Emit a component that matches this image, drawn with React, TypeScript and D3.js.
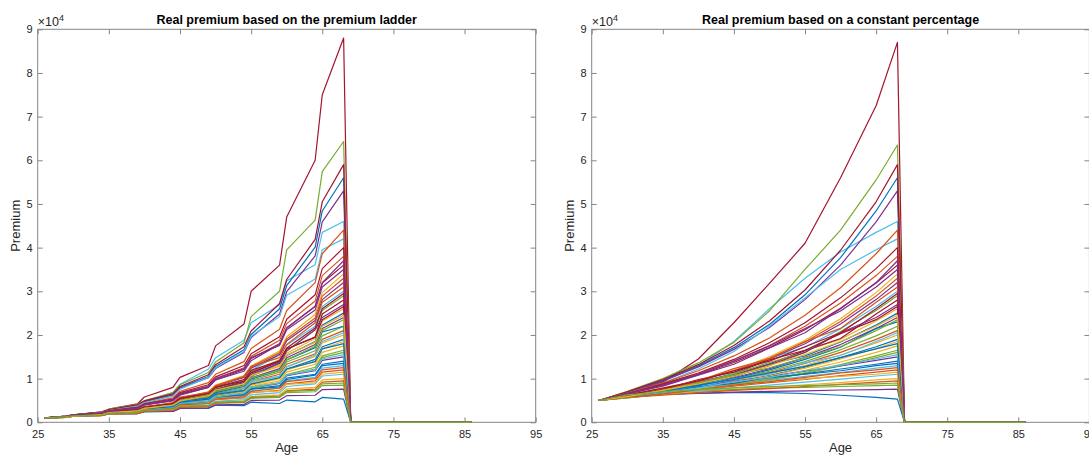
import React, { useEffect, useRef } from 'react';
import * as d3 from 'd3';

// ages sampled for each panel (ladder panel needs both ends of every bracket)
const ladderAges = [26, 29, 30, 34, 35, 39, 40, 44, 45, 49, 50, 54, 55, 59, 60, 64, 65, 68, 69, 86];
const constantAges = [26, 30, 35, 40, 45, 50, 55, 60, 65, 68, 69, 86];

// real premium, in units of 10^4 (as on the y axis)
const ladderPremium = [
  [0.1, 0.12, 0.15, 0.16, 0.19, 0.2, 0.24, 0.25, 0.32, 0.32, 0.39, 0.38, 0.46, 0.43, 0.51, 0.47, 0.57, 0.53, 0, 0],
  [0.1, 0.12, 0.14, 0.17, 0.2, 0.24, 0.3, 0.35, 0.45, 0.53, 0.65, 0.77, 0.93, 1.1, 1.33, 1.57, 1.9, 2.1, 0, 0],
  [0.1, 0.12, 0.15, 0.18, 0.23, 0.28, 0.35, 0.44, 0.56, 0.7, 0.85, 1.07, 1.29, 1.63, 1.96, 2.47, 2.97, 3.4, 0, 0],
  [0.1, 0.12, 0.15, 0.16, 0.19, 0.2, 0.25, 0.25, 0.32, 0.33, 0.4, 0.41, 0.5, 0.51, 0.61, 0.62, 0.75, 0.76, 0, 0],
  [0.1, 0.11, 0.14, 0.16, 0.19, 0.22, 0.27, 0.31, 0.4, 0.46, 0.55, 0.64, 0.77, 0.89, 1.07, 1.22, 1.48, 1.6, 0, 0],
  [0.1, 0.14, 0.17, 0.23, 0.28, 0.39, 0.48, 0.68, 0.87, 1.22, 1.48, 1.88, 2.28, 2.69, 3.24, 3.61, 4.35, 4.6, 0, 0],
  [0.1, 0.13, 0.17, 0.22, 0.3, 0.42, 0.58, 0.8, 1.03, 1.3, 1.75, 2.25, 3.0, 3.6, 4.7, 6.0, 7.5, 8.8, 0, 0],
  [0.1, 0.14, 0.17, 0.23, 0.29, 0.39, 0.48, 0.63, 0.8, 1.05, 1.28, 1.66, 2.01, 2.6, 3.13, 4.01, 4.84, 5.6, 0, 0],
  [0.1, 0.12, 0.14, 0.16, 0.2, 0.22, 0.28, 0.31, 0.39, 0.43, 0.52, 0.56, 0.68, 0.73, 0.88, 0.95, 1.15, 1.2, 0, 0],
  [0.1, 0.12, 0.14, 0.17, 0.21, 0.26, 0.32, 0.39, 0.5, 0.6, 0.73, 0.95, 1.08, 1.31, 1.58, 1.92, 2.32, 2.6, 0, 0],
  [0.1, 0.14, 0.17, 0.23, 0.28, 0.38, 0.47, 0.62, 0.78, 1.02, 1.23, 1.6, 1.94, 2.48, 2.99, 3.81, 4.59, 5.3, 0, 0],
  [0.1, 0.14, 0.17, 0.24, 0.3, 0.41, 0.5, 0.68, 0.86, 1.14, 1.38, 1.82, 2.42, 3.0, 3.95, 4.63, 5.74, 6.43, 0, 0],
  [0.1, 0.12, 0.15, 0.18, 0.22, 0.27, 0.34, 0.42, 0.53, 0.65, 0.79, 0.98, 1.19, 1.55, 1.77, 2.2, 2.65, 3.0, 0, 0],
  [0.1, 0.14, 0.17, 0.24, 0.29, 0.4, 0.49, 0.65, 0.82, 1.09, 1.32, 1.73, 2.09, 2.72, 3.27, 4.19, 5.05, 5.9, 0, 0],
  [0.1, 0.11, 0.14, 0.16, 0.2, 0.23, 0.29, 0.34, 0.43, 0.5, 0.61, 0.72, 0.87, 1.02, 1.22, 1.44, 1.73, 1.9, 0, 0],
  [0.1, 0.13, 0.16, 0.21, 0.26, 0.33, 0.41, 0.52, 0.66, 0.83, 1.0, 1.25, 1.51, 1.88, 2.26, 2.78, 3.36, 3.8, 0, 0],
  [0.1, 0.11, 0.14, 0.15, 0.19, 0.21, 0.26, 0.28, 0.35, 0.38, 0.46, 0.49, 0.59, 0.63, 0.76, 0.8, 0.97, 1.0, 0, 0],
  [0.1, 0.12, 0.14, 0.17, 0.21, 0.25, 0.31, 0.35, 0.48, 0.58, 0.7, 0.84, 1.02, 1.23, 1.48, 1.78, 2.15, 2.4, 0, 0],
  [0.1, 0.13, 0.15, 0.17, 0.2, 0.22, 0.27, 0.28, 0.35, 0.36, 0.44, 0.45, 0.55, 0.57, 0.68, 0.7, 0.84, 0.85, 0, 0],
  [0.1, 0.13, 0.16, 0.22, 0.27, 0.37, 0.45, 0.6, 0.76, 1.03, 1.25, 1.62, 1.97, 2.42, 2.91, 3.28, 3.95, 4.2, 0, 0],
  [0.1, 0.12, 0.14, 0.18, 0.22, 0.27, 0.33, 0.4, 0.51, 0.63, 0.76, 0.93, 1.13, 1.39, 1.68, 1.95, 2.48, 2.8, 0, 0],
  [0.1, 0.12, 0.15, 0.17, 0.21, 0.24, 0.3, 0.33, 0.43, 0.47, 0.57, 0.63, 0.76, 0.84, 1.01, 1.1, 1.33, 1.4, 0, 0],
  [0.1, 0.13, 0.16, 0.22, 0.27, 0.35, 0.43, 0.56, 0.71, 0.91, 1.1, 1.39, 1.69, 2.13, 2.56, 3.2, 3.86, 4.4, 0, 0],
  [0.1, 0.11, 0.14, 0.16, 0.2, 0.23, 0.28, 0.33, 0.41, 0.48, 0.58, 0.68, 0.82, 0.95, 1.15, 1.33, 1.6, 1.75, 0, 0],
  [0.1, 0.12, 0.15, 0.18, 0.22, 0.28, 0.34, 0.43, 0.54, 0.62, 0.82, 1.03, 1.24, 1.55, 1.87, 2.33, 2.81, 3.2, 0, 0],
  [0.1, 0.12, 0.14, 0.17, 0.21, 0.25, 0.3, 0.36, 0.46, 0.55, 0.66, 0.79, 0.96, 1.15, 1.38, 1.64, 1.98, 2.2, 0, 0],
  [0.1, 0.12, 0.14, 0.16, 0.2, 0.22, 0.27, 0.29, 0.37, 0.4, 0.48, 0.52, 0.63, 0.68, 0.82, 0.88, 1.06, 1.1, 0, 0],
  [0.1, 0.13, 0.16, 0.21, 0.25, 0.33, 0.4, 0.5, 0.64, 0.8, 0.97, 1.21, 1.46, 1.8, 2.16, 2.65, 3.19, 3.6, 0, 0],
  [0.1, 0.12, 0.14, 0.17, 0.21, 0.26, 0.32, 0.38, 0.49, 0.59, 0.72, 0.86, 1.05, 1.36, 1.53, 1.85, 2.23, 2.5, 0, 0],
  [0.1, 0.11, 0.14, 0.15, 0.19, 0.2, 0.25, 0.27, 0.34, 0.36, 0.44, 0.47, 0.57, 0.6, 0.72, 0.76, 0.92, 0.95, 0, 0],
  [0.1, 0.11, 0.14, 0.16, 0.2, 0.24, 0.29, 0.35, 0.44, 0.52, 0.63, 0.74, 0.9, 1.06, 1.27, 1.51, 1.82, 2.0, 0, 0],
  [0.1, 0.12, 0.15, 0.18, 0.22, 0.25, 0.31, 0.35, 0.44, 0.49, 0.6, 0.66, 0.8, 0.89, 1.07, 1.18, 1.42, 1.5, 0, 0],
  [0.1, 0.12, 0.14, 0.18, 0.22, 0.27, 0.33, 0.41, 0.52, 0.64, 0.78, 0.96, 1.16, 1.43, 1.64, 2.12, 2.56, 2.9, 0, 0],
  [0.1, 0.12, 0.15, 0.17, 0.21, 0.23, 0.29, 0.32, 0.41, 0.45, 0.54, 0.6, 0.72, 0.79, 0.95, 1.03, 1.24, 1.3, 0, 0],
  [0.1, 0.13, 0.16, 0.21, 0.26, 0.34, 0.42, 0.53, 0.68, 0.86, 1.04, 1.3, 1.57, 1.96, 2.36, 2.92, 3.52, 4.0, 0, 0],
  [0.1, 0.12, 0.14, 0.17, 0.21, 0.25, 0.31, 0.37, 0.47, 0.56, 0.68, 0.82, 0.99, 1.19, 1.43, 1.71, 2.07, 2.2, 0, 0],
  [0.1, 0.12, 0.15, 0.18, 0.23, 0.28, 0.35, 0.43, 0.55, 0.69, 0.84, 1.05, 1.27, 1.59, 1.91, 2.39, 2.89, 3.3, 0, 0],
  [0.1, 0.11, 0.14, 0.16, 0.2, 0.23, 0.29, 0.33, 0.43, 0.5, 0.6, 0.7, 0.85, 1.0, 1.2, 1.4, 1.69, 1.85, 0, 0],
  [0.1, 0.12, 0.14, 0.17, 0.21, 0.26, 0.32, 0.4, 0.5, 0.62, 0.75, 0.91, 1.1, 1.35, 1.63, 2.12, 2.4, 2.7, 0, 0],
  [0.1, 0.11, 0.14, 0.16, 0.19, 0.22, 0.28, 0.32, 0.4, 0.47, 0.56, 0.65, 0.79, 0.91, 1.09, 1.26, 1.52, 1.65, 0, 0],
  [0.1, 0.12, 0.14, 0.17, 0.21, 0.24, 0.3, 0.37, 0.47, 0.52, 0.63, 0.78, 0.94, 1.05, 1.27, 1.54, 1.85, 2.05, 0, 0],
  [0.1, 0.12, 0.15, 0.18, 0.23, 0.29, 0.36, 0.43, 0.54, 0.67, 0.81, 0.94, 1.14, 1.4, 1.68, 1.95, 2.35, 2.65, 0, 0],
  [0.1, 0.12, 0.14, 0.17, 0.2, 0.24, 0.3, 0.33, 0.42, 0.48, 0.58, 0.63, 0.76, 0.81, 0.98, 1.08, 1.3, 1.35, 0, 0],
  [0.1, 0.12, 0.15, 0.19, 0.24, 0.29, 0.35, 0.45, 0.58, 0.68, 0.83, 1.05, 1.28, 1.48, 1.78, 2.28, 2.75, 3.1, 0, 0],
  [0.1, 0.12, 0.15, 0.17, 0.21, 0.23, 0.28, 0.31, 0.4, 0.43, 0.53, 0.57, 0.69, 0.72, 0.87, 0.91, 1.1, 1.15, 0, 0],
  [0.1, 0.13, 0.16, 0.2, 0.25, 0.32, 0.4, 0.49, 0.62, 0.8, 0.97, 1.17, 1.41, 1.79, 2.16, 2.66, 3.2, 3.7, 0, 0],
  [0.1, 0.12, 0.15, 0.18, 0.22, 0.27, 0.34, 0.4, 0.5, 0.59, 0.71, 0.84, 1.02, 1.19, 1.43, 1.74, 2.1, 2.35, 0, 0],
  [0.1, 0.12, 0.14, 0.16, 0.2, 0.24, 0.29, 0.34, 0.43, 0.48, 0.58, 0.67, 0.81, 0.9, 1.08, 1.2, 1.45, 1.55, 0, 0],
  [0.1, 0.13, 0.15, 0.19, 0.23, 0.29, 0.35, 0.43, 0.55, 0.66, 0.8, 0.98, 1.19, 1.41, 1.7, 2.16, 2.6, 2.95, 0, 0],
  [0.1, 0.12, 0.15, 0.17, 0.21, 0.26, 0.31, 0.36, 0.46, 0.53, 0.64, 0.73, 0.88, 1.02, 1.22, 1.39, 1.68, 1.8, 0, 0],
  [0.1, 0.11, 0.14, 0.16, 0.2, 0.23, 0.28, 0.31, 0.4, 0.43, 0.53, 0.58, 0.71, 0.78, 0.93, 1.0, 1.2, 1.25, 0, 0],
  [0.1, 0.12, 0.14, 0.18, 0.22, 0.26, 0.32, 0.39, 0.49, 0.61, 0.74, 0.88, 1.07, 1.28, 1.54, 1.83, 2.2, 2.45, 0, 0],
  [0.1, 0.13, 0.16, 0.21, 0.26, 0.33, 0.41, 0.52, 0.66, 0.82, 1.0, 1.23, 1.48, 1.76, 2.12, 2.57, 3.1, 3.5, 0, 0],
  [0.1, 0.13, 0.15, 0.17, 0.21, 0.23, 0.28, 0.29, 0.37, 0.38, 0.46, 0.48, 0.58, 0.59, 0.71, 0.73, 0.88, 0.9, 0, 0],
];

const constantPremium = [
  [0.5, 0.6, 0.64, 0.66, 0.68, 0.68, 0.66, 0.62, 0.57, 0.53, 0, 0],
  [0.5, 0.58, 0.68, 0.81, 0.96, 1.14, 1.35, 1.6, 1.9, 2.1, 0, 0],
  [0.5, 0.6, 0.76, 0.95, 1.19, 1.5, 1.88, 2.37, 2.97, 3.4, 0, 0],
  [0.5, 0.6, 0.64, 0.67, 0.69, 0.71, 0.72, 0.74, 0.75, 0.76, 0, 0],
  [0.5, 0.56, 0.64, 0.74, 0.85, 0.97, 1.12, 1.29, 1.48, 1.6, 0, 0],
  [0.5, 0.68, 0.93, 1.3, 1.85, 2.6, 3.3, 3.9, 4.35, 4.6, 0, 0],
  [0.5, 0.65, 0.92, 1.45, 2.28, 3.18, 4.1, 5.6, 7.25, 8.7, 0, 0],
  [0.5, 0.7, 0.96, 1.29, 1.71, 2.24, 2.92, 3.77, 4.84, 5.6, 0, 0],
  [0.5, 0.59, 0.68, 0.75, 0.83, 0.91, 0.98, 1.07, 1.15, 1.2, 0, 0],
  [0.5, 0.59, 0.71, 0.87, 1.06, 1.29, 1.64, 1.9, 2.32, 2.6, 0, 0],
  [0.5, 0.69, 0.95, 1.27, 1.67, 2.17, 2.81, 3.6, 4.59, 5.3, 0, 0],
  [0.5, 0.71, 1.0, 1.36, 1.83, 2.55, 3.5, 4.4, 5.55, 6.35, 0, 0],
  [0.5, 0.6, 0.74, 0.91, 1.13, 1.46, 1.72, 2.14, 2.65, 3.0, 0, 0],
  [0.5, 0.7, 0.98, 1.32, 1.76, 2.32, 3.03, 3.94, 5.05, 5.9, 0, 0],
  [0.5, 0.57, 0.67, 0.78, 0.92, 1.07, 1.26, 1.48, 1.73, 1.9, 0, 0],
  [0.5, 0.66, 0.87, 1.11, 1.41, 1.76, 2.2, 2.73, 3.36, 3.8, 0, 0],
  [0.5, 0.57, 0.64, 0.69, 0.75, 0.8, 0.86, 0.91, 0.97, 1.0, 0, 0],
  [0.5, 0.58, 0.7, 0.8, 1.02, 1.23, 1.48, 1.78, 2.15, 2.4, 0, 0],
  [0.5, 0.63, 0.68, 0.72, 0.75, 0.78, 0.8, 0.82, 0.84, 0.85, 0, 0],
  [0.5, 0.66, 0.9, 1.22, 1.62, 2.2, 2.85, 3.5, 3.95, 4.2, 0, 0],
  [0.5, 0.59, 0.73, 0.89, 1.09, 1.34, 1.64, 1.92, 2.48, 2.8, 0, 0],
  [0.5, 0.61, 0.71, 0.81, 0.91, 1.01, 1.11, 1.22, 1.33, 1.4, 0, 0],
  [0.5, 0.67, 0.9, 1.18, 1.52, 1.93, 2.45, 3.08, 3.86, 4.4, 0, 0],
  [0.5, 0.57, 0.66, 0.76, 0.88, 1.02, 1.19, 1.38, 1.6, 1.75, 0, 0],
  [0.5, 0.6, 0.75, 0.93, 1.1, 1.45, 1.8, 2.25, 2.81, 3.2, 0, 0],
  [0.5, 0.58, 0.69, 0.82, 0.98, 1.17, 1.39, 1.66, 1.98, 2.2, 0, 0],
  [0.5, 0.58, 0.66, 0.72, 0.79, 0.85, 0.92, 0.99, 1.06, 1.1, 0, 0],
  [0.5, 0.65, 0.85, 1.09, 1.37, 1.71, 2.12, 2.61, 3.19, 3.6, 0, 0],
  [0.5, 0.59, 0.71, 0.86, 1.04, 1.33, 1.52, 1.84, 2.23, 2.5, 0, 0],
  [0.5, 0.57, 0.62, 0.68, 0.73, 0.77, 0.82, 0.87, 0.92, 0.95, 0, 0],
  [0.5, 0.57, 0.68, 0.8, 0.94, 1.11, 1.3, 1.54, 1.82, 2.0, 0, 0],
  [0.5, 0.62, 0.73, 0.83, 0.94, 1.05, 1.17, 1.29, 1.42, 1.5, 0, 0],
  [0.5, 0.59, 0.73, 0.9, 1.11, 1.37, 1.6, 2.08, 2.56, 2.9, 0, 0],
  [0.5, 0.6, 0.69, 0.78, 0.87, 0.96, 1.05, 1.14, 1.24, 1.3, 0, 0],
  [0.5, 0.66, 0.88, 1.13, 1.44, 1.82, 2.28, 2.85, 3.52, 4.0, 0, 0],
  [0.5, 0.58, 0.7, 0.83, 1.0, 1.2, 1.44, 1.72, 2.15, 2.3, 0, 0],
  [0.5, 0.6, 0.75, 0.94, 1.18, 1.47, 1.84, 2.31, 2.89, 3.3, 0, 0],
  [0.5, 0.57, 0.66, 0.78, 0.91, 1.06, 1.24, 1.45, 1.69, 1.85, 0, 0],
  [0.5, 0.59, 0.72, 0.88, 1.07, 1.31, 1.6, 2.05, 2.4, 2.7, 0, 0],
  [0.5, 0.56, 0.65, 0.75, 0.86, 0.99, 1.14, 1.32, 1.52, 1.65, 0, 0],
  [0.5, 0.58, 0.71, 0.81, 0.99, 1.1, 1.36, 1.53, 1.85, 2.05, 0, 0],
  [0.5, 0.61, 0.75, 0.98, 1.15, 1.43, 1.65, 2.03, 2.35, 2.65, 0, 0],
  [0.5, 0.59, 0.68, 0.81, 0.89, 1.03, 1.1, 1.18, 1.3, 1.35, 0, 0],
  [0.5, 0.62, 0.79, 0.95, 1.23, 1.45, 1.85, 2.15, 2.75, 3.1, 0, 0],
  [0.5, 0.6, 0.7, 0.75, 0.85, 0.93, 1.0, 1.05, 1.1, 1.15, 0, 0],
  [0.5, 0.65, 0.83, 1.08, 1.33, 1.7, 2.05, 2.6, 3.2, 3.7, 0, 0],
  [0.5, 0.6, 0.74, 0.91, 1.08, 1.25, 1.48, 1.73, 2.1, 2.35, 0, 0],
  [0.5, 0.58, 0.68, 0.79, 0.93, 1.03, 1.18, 1.3, 1.45, 1.55, 0, 0],
  [0.5, 0.63, 0.78, 0.95, 1.18, 1.4, 1.73, 2.05, 2.6, 2.95, 0, 0],
  [0.5, 0.6, 0.71, 0.85, 0.98, 1.13, 1.28, 1.48, 1.68, 1.8, 0, 0],
  [0.5, 0.57, 0.65, 0.75, 0.85, 0.93, 1.03, 1.13, 1.2, 1.25, 0, 0],
  [0.5, 0.59, 0.73, 0.88, 1.05, 1.3, 1.55, 1.85, 2.2, 2.45, 0, 0],
  [0.5, 0.65, 0.85, 1.1, 1.4, 1.75, 2.15, 2.55, 3.1, 3.5, 0, 0],
  [0.5, 0.63, 0.7, 0.75, 0.79, 0.82, 0.84, 0.86, 0.88, 0.9, 0, 0],
];

const xTicks = [25, 35, 45, 55, 65, 75, 85, 95];
const yTicks = [0, 1, 2, 3, 4, 5, 6, 7, 8, 9];

// MATLAB default colour order
const lineColors = ['#0072BD', '#D95319', '#EDB120', '#7E2F8E', '#77AC30', '#4DBEEE', '#A2142F'];

const FONT = "'Liberation Sans', Arial, Helvetica, sans-serif";
const AXIS_COLOR = '#858585';
const TEXT_COLOR = '#262626';

const panels = [
  { title: 'Real premium based on the premium ladder', ages: ladderAges, series: ladderPremium, left: 37.7, right: 535.7 },
  { title: 'Real premium based on a constant percentage', ages: constantAges, series: constantPremium, left: 591.7, right: 1089.4 },
];

const App = () => {
  const svgRef = useRef<SVGSVGElement>(null);

  useEffect(() => {
    if (!svgRef.current) return;
    const svg = d3.select(svgRef.current);
    svg.selectAll('*').remove();

    const top = 29.3;
    const bottom = 422.3;

    panels.forEach(p => {
      const x = d3.scaleLinear().domain([25, 95]).range([p.left, p.right]);
      const y = d3.scaleLinear().domain([0, 9]).range([bottom, top]);
      const g = svg.append('g');

      const styleAxis = (sel: any) => {
        sel.select('.domain').remove();
        sel.selectAll('.tick line').attr('stroke', AXIS_COLOR);
        sel.selectAll('.tick text')
          .style('font-family', FONT)
          .style('font-size', '11px')
          .attr('fill', TEXT_COLOR);
      };

      // axes, ticks pointing inwards on all four sides
      g.append('g')
        .attr('transform', `translate(0,${bottom})`)
        .call(d3.axisBottom(x).tickValues(xTicks).tickSizeInner(-5).tickSizeOuter(0).tickPadding(8))
        .call(styleAxis);
      g.append('g')
        .attr('transform', `translate(0,${top})`)
        .call(d3.axisTop(x).tickValues(xTicks).tickSizeInner(-5).tickSizeOuter(0).tickFormat(() => ''))
        .call(styleAxis);
      g.append('g')
        .attr('transform', `translate(${p.left},0)`)
        .call(d3.axisLeft(y).tickValues(yTicks).tickSizeInner(-5).tickSizeOuter(0).tickPadding(5))
        .call(styleAxis);
      g.append('g')
        .attr('transform', `translate(${p.right},0)`)
        .call(d3.axisRight(y).tickValues(yTicks).tickSizeInner(-5).tickSizeOuter(0).tickFormat(() => ''))
        .call(styleAxis);

      g.append('rect')
        .attr('x', p.left)
        .attr('y', top)
        .attr('width', p.right - p.left)
        .attr('height', bottom - top)
        .attr('fill', 'none')
        .attr('stroke', AXIS_COLOR)
        .attr('stroke-width', 1);

      // one line per simulated career
      const line = d3.line<number>()
        .x((d, i) => x(p.ages[i]))
        .y(d => y(d));

      g.append('g')
        .selectAll('path')
        .data(p.series)
        .enter()
        .append('path')
        .attr('d', d => line(d))
        .attr('fill', 'none')
        .attr('stroke', (d, i) => lineColors[i % lineColors.length])
        .attr('stroke-width', 1.2)
        .attr('stroke-linejoin', 'round');

      // x10^4 exponent label
      const exp = g.append('text')
        .attr('x', p.left)
        .attr('y', 26)
        .style('font-family', FONT)
        .attr('fill', TEXT_COLOR);
      exp.append('tspan').style('font-size', '12.5px').text('\u00d710');
      exp.append('tspan').style('font-size', '9px').attr('dy', -5).text('4');

      g.append('text')
        .attr('x', (p.left + p.right) / 2)
        .attr('y', 24)
        .attr('text-anchor', 'middle')
        .style('font-family', FONT)
        .style('font-size', '12.5px')
        .style('font-weight', 'bold')
        .attr('fill', '#000')
        .text(p.title);

      g.append('text')
        .attr('x', (p.left + p.right) / 2)
        .attr('y', 452)
        .attr('text-anchor', 'middle')
        .style('font-family', FONT)
        .style('font-size', '13px')
        .attr('fill', TEXT_COLOR)
        .text('Age');

      g.append('text')
        .attr('transform', `translate(${p.left - 18},${(top + bottom) / 2}) rotate(-90)`)
        .attr('text-anchor', 'middle')
        .style('font-family', FONT)
        .style('font-size', '13px')
        .attr('fill', TEXT_COLOR)
        .text('Premium');
    });
  }, []);

  return (
    <svg
      ref={svgRef}
      width={1089}
      height={455}
      style={{ position: 'absolute', left: 0, top: 0, background: '#fff' }}
    />
  );
};

export default App;
